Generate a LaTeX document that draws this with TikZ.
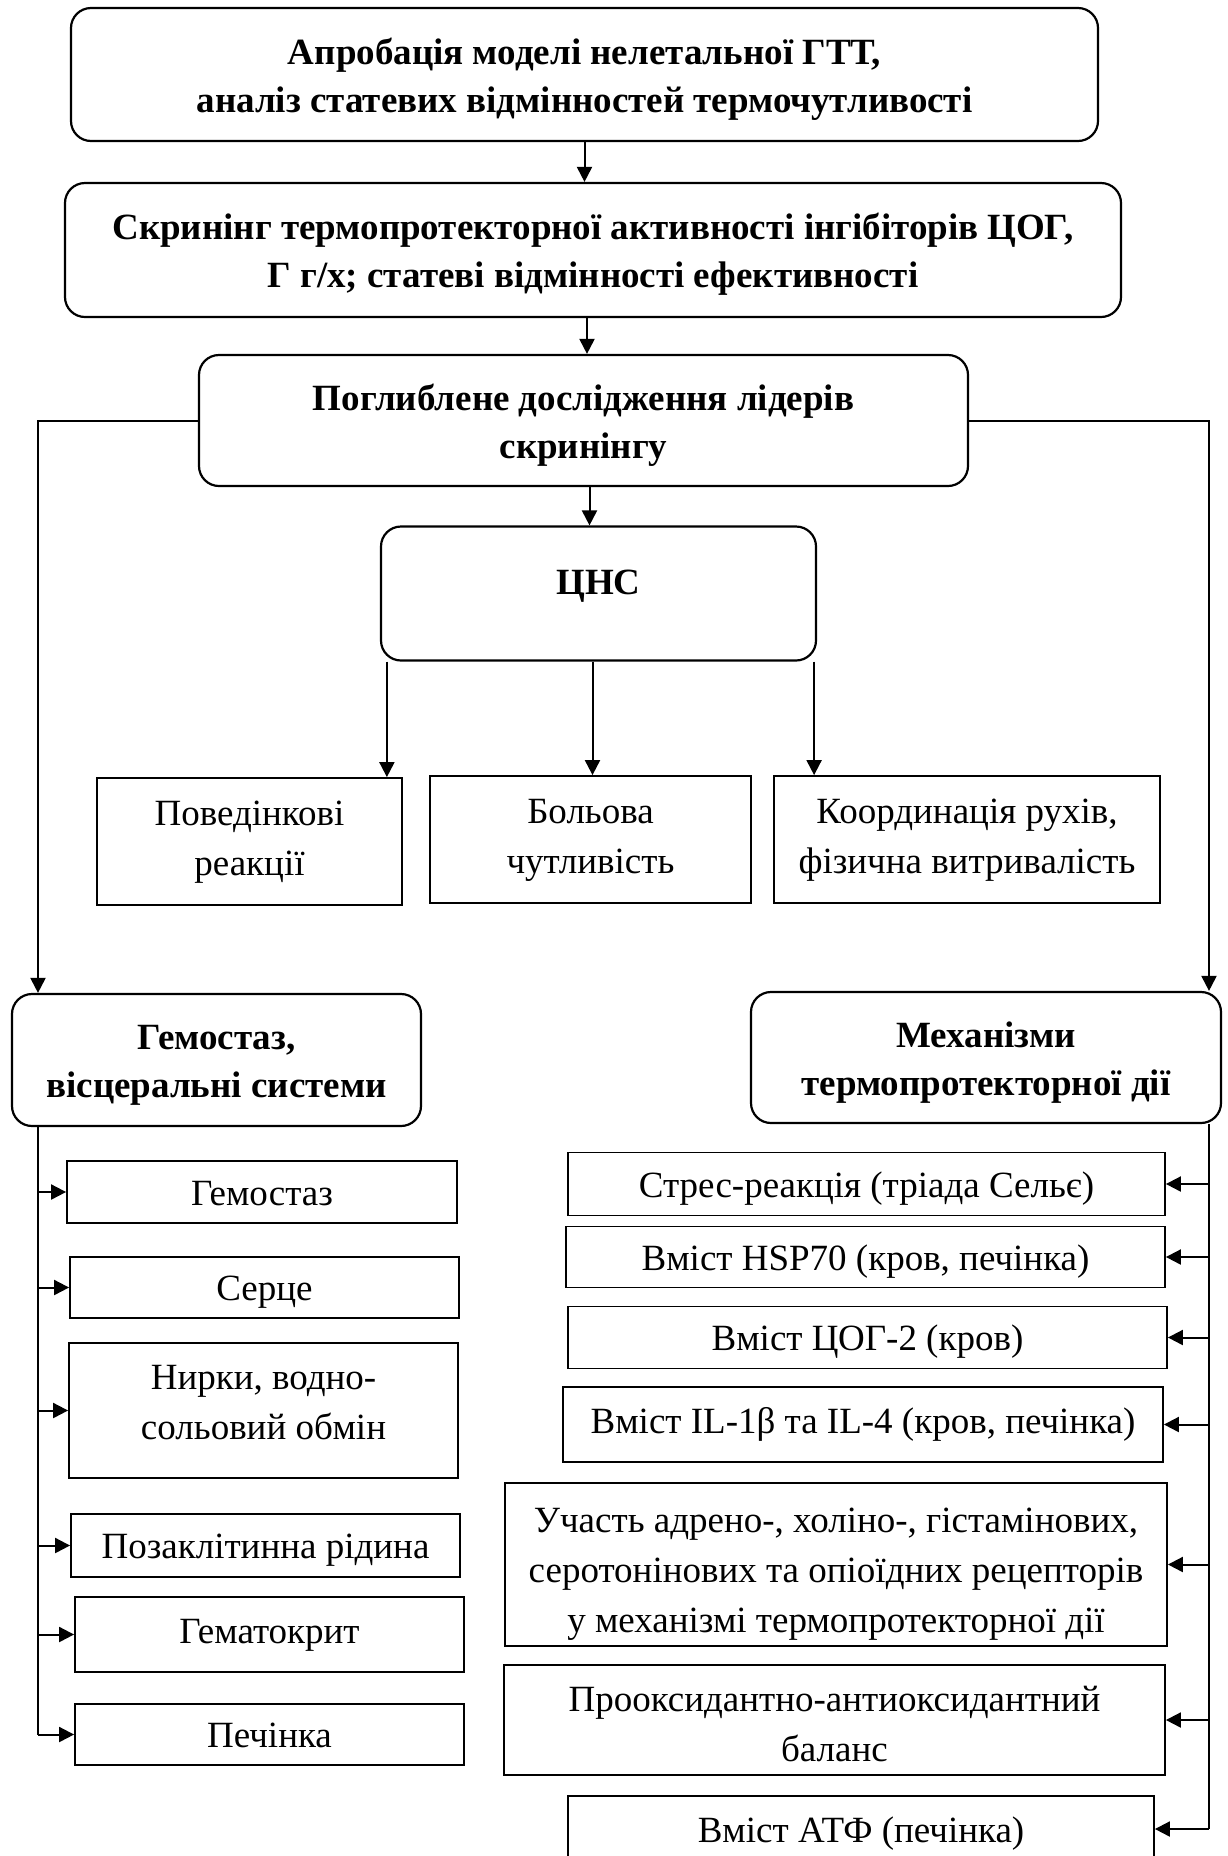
\documentclass[tikz,border=0pt]{standalone}
\usepackage{fontspec}
\setmainfont{Liberation Serif}
\usetikzlibrary{arrows.meta,calc}
\newcommand{\bs}{\rule{0pt}{38pt}}
\newcommand{\bd}{\rule[-11pt]{0pt}{0pt}}
\newcommand{\rs}{\rule{0pt}{36pt}}
\newcommand{\rsl}{\rule{0pt}{28pt}}
\newcommand{\rd}{\rule[-10pt]{0pt}{0pt}}
\tikzset{
  rbox/.style={draw, rounded corners=20pt, line width=2.2pt, align=center, inner sep=0pt,
    font=\bfseries\fontsize{37}{48}\selectfont},
  pbox/.style={draw, line width=1.8pt, align=center, inner sep=0pt,
    font=\fontsize{37}{50}\selectfont},
  arr/.style={line width=2pt, -{Triangle[length=15pt,width=15pt]}},
  ln/.style={line width=2pt},
}
\begin{document}
\begin{tikzpicture}[x=1pt,y=-1pt]
\useasboundingbox[fill=white] (0,0) rectangle (1227,1856);
% top chain
\node[rbox, minimum width=1027pt, minimum height=133pt] (b1) at (584.5,74.5)
  {\bs Апробація моделі нелетальної ГТТ,\\аналіз статевих відмінностей термочутливості\bd};
\node[rbox, minimum width=1056pt, minimum height=134pt] (b2) at (593,250)
  {\bs Скринінг термопротекторної активності інгібіторів ЦОГ,\\Г г/х; статеві відмінності ефективності\bd};
\node[rbox, minimum width=769pt, minimum height=131pt] (b3) at (583.5,420.5)
  {\bs Поглиблене дослідження лідерів\\скринінгу\bd};
\node[rbox, minimum width=435pt, minimum height=134pt] (cns) at (598.5,593.5) {};
\node[font=\bfseries\fontsize{37}{48}\selectfont, inner sep=0pt, anchor=base, yshift=-1pt] (cnsT) at (cns.center) {ЦНС};
% CNS children
\node[pbox, minimum width=305pt, minimum height=127pt] (pov) at (249.5,841.5) {\rsl Поведінкові\\реакції\rd};
\node[pbox, minimum width=321pt, minimum height=127pt] (bol) at (590.5,839.5) {\rsl Больова\\чутливість\rd};
\node[pbox, minimum width=386pt, minimum height=127pt] (koo) at (967,839.5) {\rsl Координація рухів,\\фізична витривалість\rd};
% side heads
\node[rbox, minimum width=409pt, minimum height=132pt] (hem) at (216.5,1060) {\bs Гемостаз,\\вісцеральні системи\bd};
\node[rbox, minimum width=470pt, minimum height=131pt] (mech) at (986,1057.5) {\bs Механізми\\термопротекторної дії\bd};
% left list
\node[pbox, minimum width=390pt, minimum height=62pt] (l1) at (262,1192) {\rs Гемостаз\rd};
\node[pbox, minimum width=389pt, minimum height=61pt] (l2) at (264.5,1287.5) {\rs Серце\rd};
\node[pbox, minimum width=389pt, minimum height=135pt] (l3) at (263.5,1410.5) {Нирки, водно-\\сольовий обмін\rule[-16pt]{0pt}{0pt}};
\node[pbox, minimum width=389pt, minimum height=63pt] (l4) at (265.5,1545.5) {\rs Позаклітинна рідина\rd};
\node[pbox, minimum width=389pt, minimum height=75pt] (l5) at (269.5,1634.5) {\rsl Гематокрит\rd};
\node[pbox, minimum width=389pt, minimum height=61pt] (l6) at (269.5,1734.5) {\rs Печінка\rd};
% right list
\node[pbox, minimum width=597pt, minimum height=63pt] (r1) at (866.5,1184) {\rs Стрес-реакція (тріада Сельє)\rd};
\node[pbox, minimum width=599pt, minimum height=61pt] (r2) at (865.5,1257) {\rs Вміст HSP70 (кров, печінка)\rd};
\node[pbox, minimum width=599pt, minimum height=62pt] (r3) at (867.5,1337.5) {\rs Вміст ЦОГ-2 (кров)\rd};
\node[pbox, minimum width=600pt, minimum height=75pt] (r4) at (863,1424.5) {\rsl Вміст IL-1β та IL-4 (кров, печінка)\rd};
\node[pbox, minimum width=662pt, minimum height=163pt] (r5) at (836,1564.5)
  {\rule{0pt}{46pt}Участь адрено-, холіно-, гістамінових,\\серотонінових та опіоїдних рецепторів\\у механізмі термопротекторної дії\rule[-11pt]{0pt}{0pt}};
\node[pbox, minimum width=661pt, minimum height=110pt] (r6) at (834.5,1720)
  {\rule{0pt}{43pt}Прооксидантно-антиоксидантний\\баланс\rule[-11pt]{0pt}{0pt}};
\node[pbox, minimum width=586pt, minimum height=66pt] (r7) at (861,1829) {\rs Вміст АТФ (печінка)\rd};
% connectors top
\draw[arr] (b1.south) -- (b1.south |- b2.north);
\draw[arr] ([xshift=-6pt]b2.south) -- ([xshift=-6pt]b2.south |- b3.north);
\draw[arr] ([xshift=6pt]b3.south) -- ([xshift=6pt]b3.south |- cns.north);
\draw[arr] ([xshift=7pt]cns.south west) -- ([xshift=7pt]cns.south west |- pov.north);
\draw[arr] ([xshift=-6pt]cns.south) -- ([xshift=-6pt]cns.south |- bol.north);
\draw[arr] ([xshift=-3pt]cns.south east) -- ([xshift=-3pt]cns.south east |- koo.north);
% side branches
\coordinate (L) at (38,420);
\coordinate (R) at (1209,420);
\draw[arr] (b3.west) -| (L |- hem.north);
\draw[arr] (b3.east) -| (R |- mech.north);
% left trunk
\draw[ln] (L |- hem.south) -- (L |- l6.west);
\foreach \n in {l1,l2,l3,l4,l5,l6} \draw[arr] (L |- \n.west) -- (\n.west);
% right trunk
\draw[ln] (R |- mech.south) -- (R |- r7.east);
\foreach \n in {r1,r2,r3,r4,r5,r6,r7} \draw[arr] (R |- \n.east) -- (\n.east);
\end{tikzpicture}
\end{document}
